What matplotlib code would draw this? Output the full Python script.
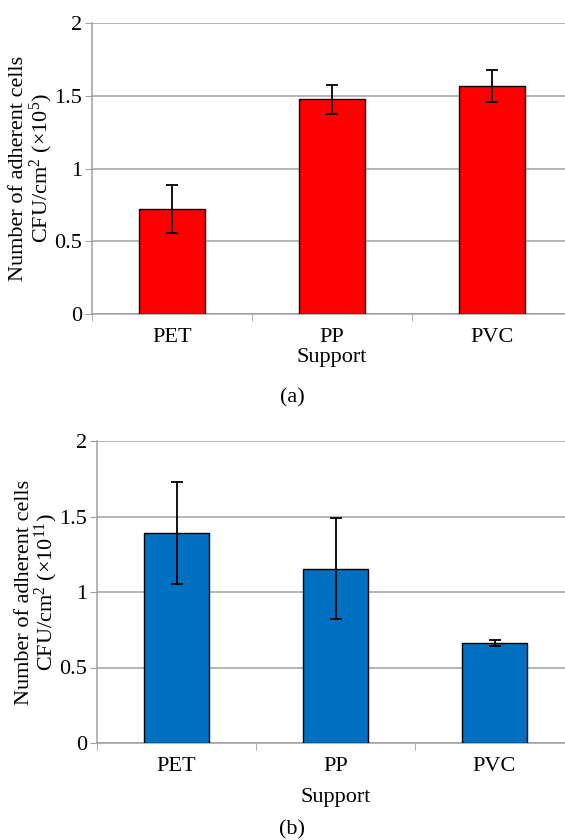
import numpy as np
import matplotlib
matplotlib.use("Agg")
import matplotlib.pyplot as plt

# donnees
supports = ["PET", "PP", "PVC"]
moy_a = [0.72, 1.475, 1.57]
err_a = [0.165, 0.10, 0.11]
moy_b = [1.39, 1.155, 0.665]
err_b = [0.34, 0.335, 0.02]
yticks = [0, 0.5, 1, 1.5, 2]
ytick_labels = ["0", "0.5", "1", "1.5", "2"]

plt.rcParams['font.family'] = ['Liberation Serif', 'DejaVu Serif']
plt.rcParams['mathtext.fontset'] = 'custom'
plt.rcParams['mathtext.rm'] = 'Liberation Serif'
plt.rcParams['mathtext.it'] = 'Liberation Serif:italic'
plt.rcParams['font.size'] = 16

gris = "#a0a0a0"

fig = plt.figure(figsize=(5.65, 8.4), dpi=100)

def panneau(rect, moy, err, couleur, ylab, lettre, ly, pad_sup):
    ax = fig.add_axes(rect)
    x = np.arange(len(supports))
    ax.bar(x, moy, width=0.41, color=couleur, edgecolor="black", linewidth=1.0, zorder=3)
    ax.errorbar(x, moy, yerr=err, fmt="none", ecolor="black", elinewidth=1.3,
                capsize=4.5, capthick=1.3, zorder=4)
    ax.set_xlim(-0.5, 2.5)
    ax.set_ylim(0, 2)
    ax.set_yticks(yticks)
    ax.set_yticklabels(ytick_labels)
    ax.yaxis.grid(True, color=gris, linewidth=1.1, zorder=0)
    ax.set_xticks(x)
    ax.set_xticklabels(supports)
    ax.set_xticks([-0.5, 0.5, 1.5], minor=True)
    ax.tick_params(axis="x", which="major", length=0, pad=10)
    ax.tick_params(axis="x", which="minor", length=5, color=gris, direction="out")
    ax.tick_params(axis="y", length=5, color=gris, pad=2)
    for s in ["top", "right"]:
        ax.spines[s].set_visible(False)
    ax.spines["left"].set_color(gris)
    ax.spines["bottom"].set_color(gris)
    ax.spines["left"].set_linewidth(1.1)
    ax.spines["bottom"].set_linewidth(1.1)
    ax.set_xlabel("Support", labelpad=pad_sup)
    ax.set_ylabel(ylab, linespacing=0.95)
    ax.yaxis.label.set_va("center")
    ax.yaxis.set_label_coords(-0.125, 0.5)
    fig.text(292 / 565, ly, lettre, ha="center", va="center")
    return ax

panneau([92 / 565, 1 - 314 / 840, 480 / 565, 291 / 840], moy_a, err_a, "#ff0000",
        "Number of adherent cells\nCFU/cm$^{2}$ (×10$^{5}$)", "(a)", 1 - 398 / 840, 1)
panneau([97 / 565, 1 - 743 / 840, 477 / 565, 302 / 840], moy_b, err_b, "#0070c0",
        "Number of adherent cells\nCFU/cm$^{2}$ (×10$^{11}$)", "(b)", 1 - 830 / 840, 9)

fig.savefig("out.png", dpi=100)
